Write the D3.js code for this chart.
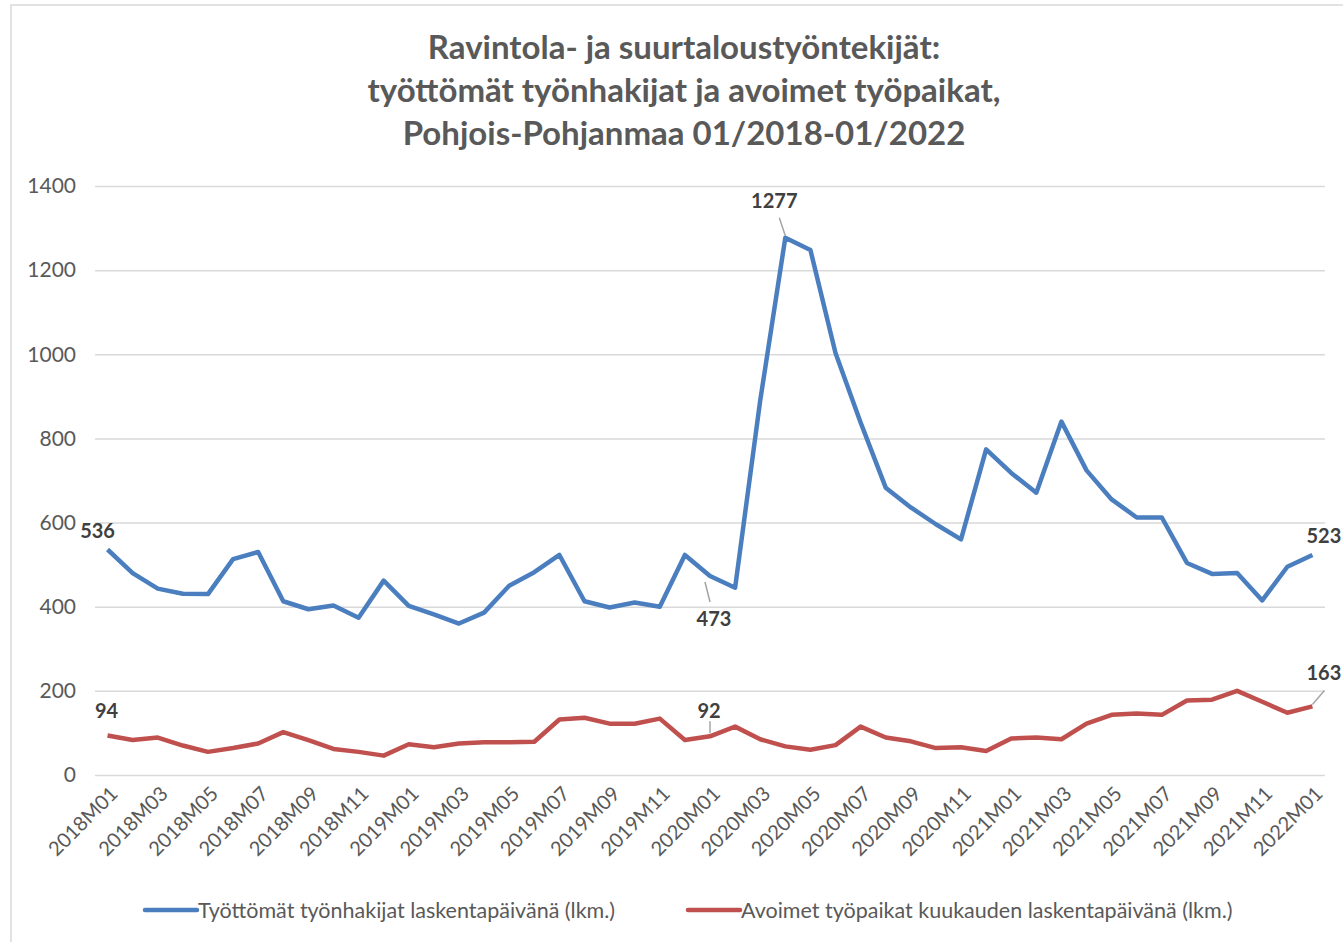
<!DOCTYPE html>
<html>
<head>
<meta charset="utf-8">
<script src="https://cdn.jsdelivr.net/npm/d3@7"></script>
<style>
  body { margin: 0; background: #fff; }
  svg { display: block; font-family: Lato, "Open Sans", sans-serif; }
</style>
</head>
<body>
<svg id="vis" width="1343" height="942"></svg>
<script>
var months = ["2018M01","2018M02","2018M03","2018M04","2018M05","2018M06","2018M07","2018M08","2018M09","2018M10","2018M11","2018M12",
  "2019M01","2019M02","2019M03","2019M04","2019M05","2019M06","2019M07","2019M08","2019M09","2019M10","2019M11","2019M12",
  "2020M01","2020M02","2020M03","2020M04","2020M05","2020M06","2020M07","2020M08","2020M09","2020M10","2020M11","2020M12",
  "2021M01","2021M02","2021M03","2021M04","2021M05","2021M06","2021M07","2021M08","2021M09","2021M10","2021M11","2021M12",
  "2022M01"];

var unemployed = [536,480,443,431,430,513,530,413,394,403,374,462,
  402,382,360,386,450,482,523,413,398,410,400,523,
  473,445,890,1277,1248,1003,838,683,636,596,560,774,
  718,671,840,724,655,612,612,504,478,480,415,495,
  523];

var vacancies = [94,83,89,70,55,64,75,102,83,62,55,46,
  73,66,75,78,78,79,132,136,122,122,134,83,
  92,115,85,68,60,71,115,89,80,64,66,57,
  87,89,85,122,143,146,143,177,179,200,174,148,
  163];

var yTicks = [0,200,400,600,800,1000,1200,1400];
var titleLines = ["Ravintola- ja suurtaloustyöntekijät:", "työttömät työnhakijat ja avoimet työpaikat,", "Pohjois-Pohjanmaa 01/2018-01/2022"];
var seriesNames = ["Työttömät työnhakijat laskentapäivänä (lkm.)", "Avoimet työpaikat kuukauden laskentapäivänä (lkm.)"];
var seriesColors = ["#4a7ebf", "#c0504d"];
// which points get a value label
var labelIdx1 = [0, 24, 27, 48];
var labelIdx2 = [0, 24, 48];

var svg = d3.select("#vis");

// chart frame
svg.append("rect").attr("x", 11).attr("y", 5).attr("width", 1400).attr("height", 1000)
  .attr("fill", "#fff").attr("stroke", "#d9d9d9").attr("stroke-width", 1.5);

var x = d3.scalePoint().domain(months).range([95, 1325]).padding(0.5);
var y = d3.scaleLinear().domain([0, 1400]).range([775, 186]);

// title
svg.append("g").selectAll("text").data(titleLines).enter().append("text")
  .attr("x", 684).attr("y", function(d, i) { return 59 + i * 43; })
  .attr("text-anchor", "middle").attr("font-size", 33).attr("font-weight", "bold")
  .attr("fill", "#595959").text(function(d) { return d; });

// gridlines + y labels
var yAxis = d3.axisLeft(y).tickValues(yTicks).tickFormat(d3.format("d")).tickSize(-1230).tickPadding(19);
var gy = svg.append("g").attr("transform", "translate(95,0)").call(yAxis);
gy.select(".domain").remove();
gy.selectAll(".tick line").attr("stroke", "#d9d9d9").attr("stroke-width", 1.5);
gy.selectAll(".tick text").attr("font-size", 21).attr("fill", "#595959").attr("font-family", "Lato, sans-serif");

// x labels
var xAxis = d3.axisBottom(x).tickValues(months.filter(function(d, i) { return i % 2 == 0; })).tickSize(0);
var gx = svg.append("g").attr("transform", "translate(0,775)").call(xAxis);
gx.select(".domain").remove();
gx.selectAll(".tick text")
  .attr("font-size", 20).attr("fill", "#595959").attr("font-family", "Lato, sans-serif")
  .attr("text-anchor", "end").attr("dy", 0).attr("y", 0)
  .attr("transform", "translate(11,20) rotate(-45)");

// lines
var line = d3.line().x(function(d, i) { return x(months[i]); }).y(function(d) { return y(d); });
[unemployed, vacancies].forEach(function(s, k) {
  svg.append("path").attr("d", line(s)).attr("fill", "none")
    .attr("stroke", seriesColors[k]).attr("stroke-width", 4.5).attr("stroke-linejoin", "round");
});

// value labels
function addLabel(s, i, dx, dy, lead, anchor) {
  var px = x(months[i]), py = y(s[i]);
  if (lead) {
    svg.append("line").attr("x1", px + lead[0]).attr("y1", py + lead[1]).attr("x2", px + lead[2]).attr("y2", py + lead[3])
      .attr("stroke", "#a6a6a6").attr("stroke-width", 1.5);
  }
  svg.append("text").attr("x", px + dx).attr("y", py + dy).attr("text-anchor", anchor || "middle")
    .attr("font-size", 20).attr("font-weight", "bold").attr("fill", "#404040").text(s[i]);
}
addLabel(unemployed, labelIdx1[0], -10, -11);
addLabel(unemployed, labelIdx1[1], 4, 50, [-5, 6, 0, 26]);
addLabel(unemployed, labelIdx1[2], -11, -30, [0, -2, -6, -20]);
addLabel(unemployed, labelIdx1[3], -6, -12, null, "start");
addLabel(vacancies, labelIdx2[0], -1, -17);
addLabel(vacancies, labelIdx2[1], -1, -18, [0, -3, 0, -15]);
addLabel(vacancies, labelIdx2[2], -6, -26, [0, -2, 12, -16], "start");

// legend
var legX = [145, 688];
seriesNames.forEach(function(n, k) {
  svg.append("line").attr("x1", legX[k]).attr("x2", legX[k] + 52).attr("y1", 910).attr("y2", 910)
    .attr("stroke", seriesColors[k]).attr("stroke-width", 4.5).attr("stroke-linecap", "round");
  svg.append("text").attr("x", legX[k] + 53).attr("y", 918).attr("font-size", 21.5)
    .attr("fill", "#595959").text(n);
});
</script>
</body>
</html>
